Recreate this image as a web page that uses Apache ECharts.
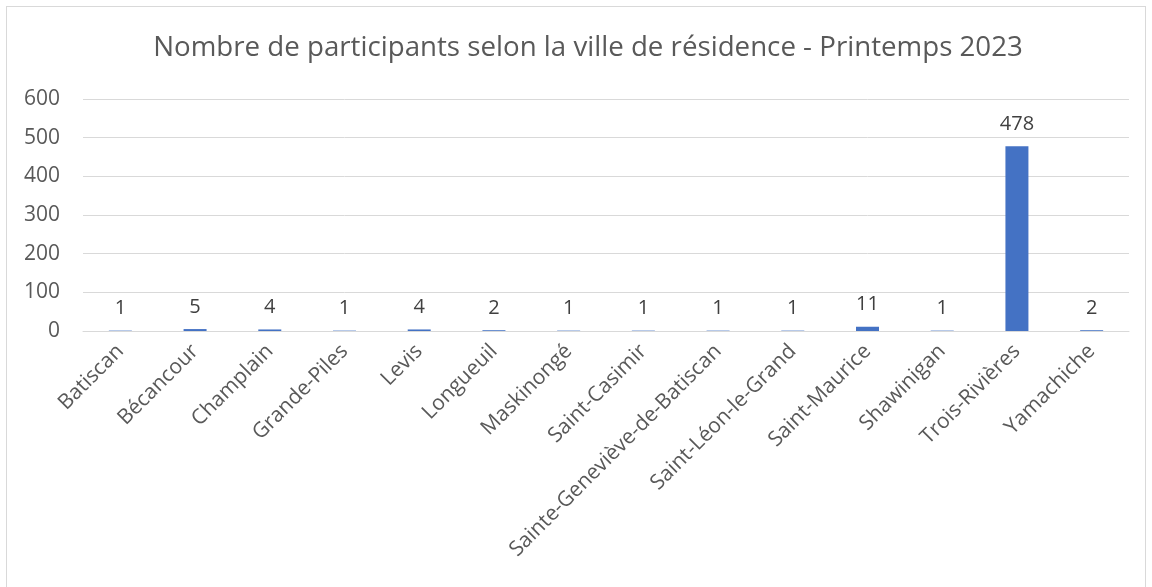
<!DOCTYPE html>
<html>
<head>
<meta charset="utf-8">
<script src="https://cdn.jsdelivr.net/npm/echarts@6/dist/echarts.min.js"></script>
<style>
  html, body { margin: 0; padding: 0; background: #fff; }
  #frame {
    position: absolute; left: 6px; top: 6px; width: 1140px; height: 600px;
    border: 1px solid #d9d9d9; box-sizing: border-box;
  }
  #chart { position: absolute; left: 0; top: 0; width: 1152px; height: 587px; }
</style>
</head>
<body>
<div id="frame"></div>
<div id="chart"></div>
<script>
const villes = ['Batiscan', 'Bécancour', 'Champlain', 'Grande-Piles', 'Levis', 'Longueuil', 'Maskinongé',
  'Saint-Casimir', 'Sainte-Geneviève-de-Batiscan', 'Saint-Léon-le-Grand', 'Saint-Maurice', 'Shawinigan',
  'Trois-Rivières', 'Yamachiche']
const participants = [1, 5, 4, 1, 4, 2, 1, 1, 1, 1, 11, 1, 478, 2]
const titre = 'Nombre de participants selon la ville de résidence - Printemps 2023'

const chart = echarts.init(document.getElementById('chart'))
const option = {
  animation: false,
  textStyle: { fontFamily: 'Open Sans' },
  title: {
    text: titre,
    left: 583,
    textAlign: 'center',
    top: 29,
    textStyle: { fontFamily: 'Open Sans', fontSize: 27.7, fontWeight: 'normal', color: '#595959' }
  },
  grid: { left: 83, right: 23, top: 99, bottom: 256 },
  xAxis: {
    type: 'category',
    data: villes,
    axisLine: { lineStyle: { color: '#d9d9d9', width: 1 } },
    axisTick: { show: false },
    axisLabel: { rotate: 45, interval: 0, fontSize: 21, color: '#595959', margin: 17 }
  },
  yAxis: {
    type: 'value',
    min: 0,
    max: 600,
    interval: 100,
    axisLine: { show: false },
    axisTick: { show: false },
    splitLine: { lineStyle: { color: '#d9d9d9', width: 1 } },
    axisLabel: { fontSize: 21, color: '#595959', margin: 23 }
  },
  series: [{
    type: 'bar',
    data: participants,
    barWidth: 23,
    itemStyle: { color: '#4472c4' },
    label: { show: true, position: 'top', distance: 12, fontSize: 20, color: '#404040' }
  }]
}
chart.setOption(option)
</script>
</body>
</html>
